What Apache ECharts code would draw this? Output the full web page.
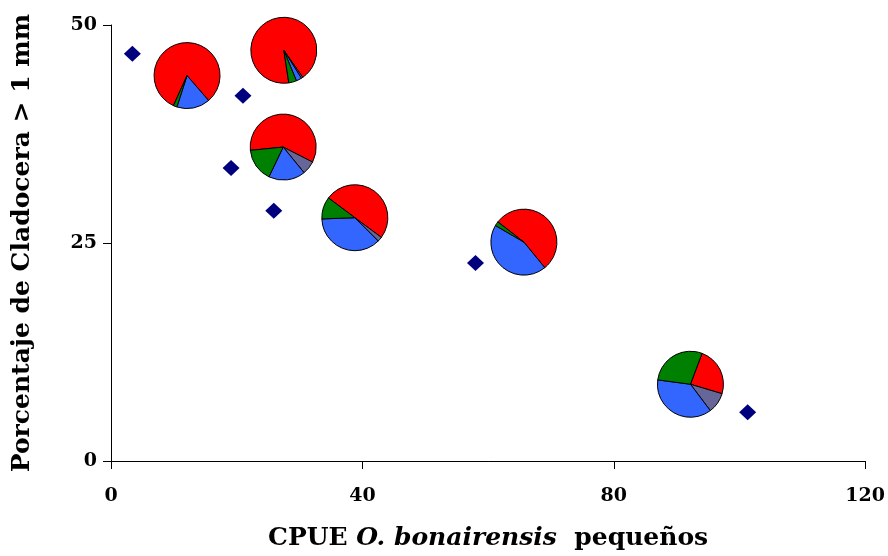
<!DOCTYPE html>
<html>
<head>
<meta charset="utf-8">
<script src="https://cdn.jsdelivr.net/npm/echarts@6/dist/echarts.min.js"></script>
<style>html,body{margin:0;padding:0;background:#fff}#c{width:888px;height:556px}</style>
</head>
<body>
<div id="c"></div>
<script>
// Scatter points (diamonds)
const diamondX = [3.4, 21.0, 19.1, 25.9, 58.0, 101.3];
const diamondY = [46.7, 41.9, 33.6, 28.7, 22.7, 5.6];

// Pie positions
const pieX = [12.1, 27.5, 27.4, 38.8, 65.7, 92.2];
const pieY = [44.2, 47.1, 36.0, 27.9, 25.1, 8.8];
// Pie compositions (%), clockwise order: red, slate, blue, green
const pieRed   = [81.9, 92.7, 59.1, 49.9, 53.6, 23.9];
const pieSlate = [0.0, 0.8, 6.6, 2.3, 0.0, 10.1];
const pieBlue  = [16.3, 2.7, 18.0, 36.9, 44.3, 37.4];
const pieGreen = [1.8, 3.8, 16.3, 10.8, 2.1, 28.6];
// rotation of first (red) slice, degrees clockwise from 12 o'clock
const pieRotation = [204.4, 171.3, 264.3, 306.8, 307.8, 20.6];

const xTicks = [0, 40, 80, 120];
const yTicks = [0, 25, 50];

const sliceColors = ['#FF0000', '#666699', '#3366FF', '#008000'];
const PIE_R = 33;

const pieData = pieX.map((x, i) => [x, pieY[i], pieRed[i], pieSlate[i], pieBlue[i], pieGreen[i], pieRotation[i]]);
const diamondData = diamondX.map((x, i) => [x, diamondY[i]]);

const chart = echarts.init(document.getElementById('c'));
const FONT = '"DejaVu Serif", serif';

chart.setOption({
  animation: false,
  backgroundColor: '#ffffff',
  grid: {left: 111, right: 22, top: 25, bottom: 94, containLabel: false},
  xAxis: {
    type: 'value', min: xTicks[0], max: xTicks[xTicks.length - 1], interval: 40,
    name: '{a|CPUE }{i|O. bonairensis}{a|  pequeños}',
    nameLocation: 'middle', nameGap: 65,
    nameTextStyle: {
      rich: {
        a: {fontFamily: FONT, fontWeight: 'bold', fontSize: 25, color: '#000'},
        i: {fontFamily: FONT, fontWeight: 'bold', fontStyle: 'italic', fontSize: 25, color: '#000'}
      }
    },
    axisLine: {onZero: false, lineStyle: {color: '#000', width: 1}},
    axisTick: {show: true, inside: false, length: 8, lineStyle: {color: '#000'}},
    axisLabel: {fontFamily: FONT, fontWeight: 'bold', fontSize: 19, color: '#000', margin: 26},
    splitLine: {show: false}
  },
  yAxis: {
    type: 'value', min: yTicks[0], max: yTicks[yTicks.length - 1], interval: 25,
    name: 'Porcentaje de Cladocera > 1 mm',
    nameLocation: 'middle', nameGap: 76, nameRotate: 90,
    nameTextStyle: {fontFamily: FONT, fontWeight: 'bold', fontSize: 25, color: '#000'},
    axisLine: {show: true, onZero: false, lineStyle: {color: '#000', width: 1}},
    axisTick: {show: true, inside: false, length: 8, lineStyle: {color: '#000'}},
    axisLabel: {fontFamily: FONT, fontWeight: 'bold', fontSize: 19, color: '#000', margin: 14},
    splitLine: {show: false}
  },
  series: [
    {
      type: 'scatter',
      data: diamondData,
      symbol: 'diamond',
      symbolSize: [17, 16],
      itemStyle: {color: '#00007F', opacity: 1},
      z: 2
    },
    {
      type: 'custom',
      data: pieData,
      z: 3,
      clip: false,
      renderItem: function (params, api) {
        const c = api.coord([api.value(0), api.value(1)]);
        const vals = [api.value(2), api.value(3), api.value(4), api.value(5)];
        const total = vals.reduce((a, b) => a + b, 0);
        let ang = (api.value(6) - 90) * Math.PI / 180;
        const children = [];
        vals.forEach((v, k) => {
          if (v <= 0) return;
          const span = v / total * Math.PI * 2;
          children.push({
            type: 'sector',
            shape: {cx: c[0], cy: c[1], r: PIE_R, r0: 0, startAngle: ang, endAngle: ang + span, clockwise: true},
            style: {fill: sliceColors[k], stroke: '#000', lineWidth: 1}
          });
          ang += span;
        });
        return {type: 'group', children: children};
      }
    }
  ]
});
</script>
</body>
</html>
